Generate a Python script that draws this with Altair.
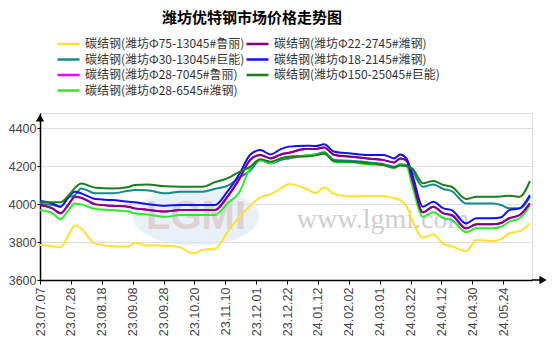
import json
import altair as alt
import pandas as pd

title_text = "潍坊优特钢市场价格走势图"

# legend order (column-major: Vega fills the legend column by column)
names = [
    "碳结钢(潍坊Φ75-13045#鲁丽)",
    "碳结钢(潍坊Φ30-13045#巨能)",
    "碳结钢(潍坊Φ28-7045#鲁丽)",
    "碳结钢(潍坊Φ28-6545#潍钢)",
    "碳结钢(潍坊Φ22-2745#潍钢)",
    "碳结钢(潍坊Φ18-2145#潍钢)",
    "碳结钢(潍坊Φ150-25045#巨能)",
]
colors = ["#FFE030", "#138A8A", "#FF00FF", "#2BEB2B", "#800080", "#1010F0", "#1E7D1E"]

# x positions: trading-day index (labels every 15 trading days)
date_labels = ["23.07.07", "23.07.28", "23.08.18", "23.09.08", "23.09.28", "23.10.20",
               "23.11.10", "23.12.01", "23.12.22", "24.01.12", "24.02.02", "24.03.01",
               "24.03.22", "24.04.12", "24.04.30", "24.05.24"]
label_idx = [i * 15 for i in range(len(date_labels))]

idx = [0, 6, 10, 14, 17, 20, 27, 35, 43, 46,
       52, 61, 68, 74, 79, 85, 91, 97, 102, 107,
       112, 117, 121, 129, 134, 138, 143, 151, 159, 167,
       172, 175, 178, 181, 186, 191, 196, 200, 207, 212,
       220, 224, 228, 233, 238]

yellow = [3784, 3778, 3772, 3840, 3888, 3870, 3790, 3778, 3776, 3795,
          3782, 3780, 3772, 3740, 3758, 3765, 3850, 3935, 3990, 4035,
          4052, 4082, 4105, 4080, 4058, 4088, 4052, 4040, 4042, 4042,
          4030, 4020, 3990, 3910, 3822, 3840, 3790, 3778, 3752, 3810,
          3805, 3815, 3846, 3856, 3898]
teal = [4000, 3995, 3986, 4035, 4047, 4082, 4056, 4056, 4070, 4074,
        4072, 4056, 4065, 4065, 4065, 4080, 4095, 4140, 4175, 4230,
        4214, 4232, 4240, 4255, 4262, 4272, 4231, 4228, 4220, 4210,
        4196, 4209, 4205, 4170, 4091, 4103, 4079, 4068, 4003, 4003,
        4003, 3995, 3977, 3977, 4038]
magenta = [3995, 3977, 3951, 4000, 4038, 4033, 3998, 3991, 3985, 3977,
           3970, 3960, 3968, 3968, 3968, 3968, 4038, 4135, 4231, 4258,
           4240, 4261, 4270, 4289, 4290, 4297, 4258, 4249, 4240, 4231,
           4219, 4240, 4230, 4120, 3956, 3986, 3951, 3942, 3872, 3893,
           3893, 3900, 3925, 3942, 4003]
lime = [3968, 3951, 3921, 3970, 4003, 3998, 3974, 3968, 3960, 3951,
        3945, 3933, 3942, 3942, 3942, 3942, 4003, 4065, 4188, 4231,
        4214, 4240, 4249, 4255, 4260, 4266, 4223, 4220, 4209, 4205,
        4188, 4205, 4200, 4090, 3933, 3956, 3925, 3916, 3851, 3872,
        3872, 3880, 3907, 3925, 3991]
purple = [3995, 3977, 3951, 4000, 4038, 4033, 3998, 3991, 3985, 3977,
          3970, 3960, 3968, 3968, 3968, 3968, 4038, 4135, 4231, 4258,
          4240, 4261, 4270, 4289, 4290, 4297, 4258, 4249, 4240, 4231,
          4219, 4240, 4230, 4120, 3956, 3986, 3951, 3942, 3872, 3893,
          3893, 3900, 3925, 3942, 4003]
blue = [4016, 4003, 3986, 4040, 4065, 4056, 4026, 4021, 4012, 4009,
        4000, 3991, 3995, 3995, 3995, 3995, 4065, 4161, 4258, 4284,
        4261, 4289, 4302, 4307, 4305, 4314, 4275, 4266, 4258, 4258,
        4240, 4261, 4240, 4150, 3986, 4012, 3977, 3968, 3898, 3925,
        3925, 3930, 3968, 3977, 4047]
dkgreen = [4009, 4009, 4009, 4047, 4085, 4108, 4085, 4082, 4090, 4100,
           4103, 4093, 4091, 4091, 4091, 4115, 4135, 4170, 4195, 4235,
           4223, 4240, 4249, 4250, 4256, 4266, 4225, 4222, 4215, 4205,
           4192, 4203, 4200, 4185, 4109, 4121, 4100, 4091, 4026, 4038,
           4038, 4040, 4044, 4038, 4121]

series_vals = [yellow, teal, magenta, lime, purple, blue, dkgreen]

rows = []
for k, vals in enumerate(series_vals):
    for i, v in zip(idx, vals):
        rows.append({"idx": i, "price": v, "series": names[k]})
df = pd.DataFrame(rows)

W, H = 492, 167
FONT_CN = "Noto Sans CJK SC"
FONT_NUM = "Liberation Sans"

label_expr = json.dumps(date_labels) + "[round(datum.value / 15)]"

lines = alt.Chart(df).mark_line(interpolate="monotone", strokeWidth=2).encode(
    x=alt.X("idx:Q",
            scale=alt.Scale(domain=[0, 239], nice=False, zero=False),
            axis=alt.Axis(values=label_idx, labelExpr=label_expr, labelAngle=270,
                          grid=False, title=None, domainColor="black", domainWidth=1.5,
                          tickColor="black", tickSize=4, labelFont=FONT_NUM,
                          labelFontSize=12.5, labelColor="#444", labelPadding=3)),
    y=alt.Y("price:Q",
            scale=alt.Scale(domain=[3600, 4479], nice=False, zero=False),
            axis=alt.Axis(values=[3600, 3800, 4000, 4200, 4400], format="d", grid=True,
                          gridColor="#dddddd", gridWidth=1, title=None,
                          domainColor="black", domainWidth=1.5, tickColor="black",
                          tickSize=3, labelFont=FONT_NUM, labelFontSize=12.5,
                          labelColor="#444", labelPadding=1)),
    color=alt.Color("series:N",
                    scale=alt.Scale(domain=names, range=colors),
                    sort=names,
                    legend=alt.Legend(orient="none", legendX=16, legendY=-75,
                                      columns=2, title=None, symbolType="stroke",
                                      symbolSize=484, symbolStrokeWidth=2.5,
                                      clipHeight=12, rowPadding=3.5,
                                      columnPadding=-2, labelOffset=4,
                                      labelFont=FONT_CN, labelFontSize=12,
                                      labelColor="#333", labelLimit=300)),
)

one = pd.DataFrame({"t": ["www.lgmi.com"]})
logo_df = pd.DataFrame({"t": ["LGMI"]})

ellipse = alt.Chart(logo_df).mark_point(
    shape="M-1,0A1,0.45,0,1,0,1,0A1,0.45,0,1,0,-1,0Z",
    filled=True, color="#d6e4f2", opacity=0.55, size=16000
).encode(x=alt.value(156), y=alt.value(104))

logo_text = alt.Chart(logo_df).mark_text(
    font="Liberation Sans", fontSize=40, fontWeight="bold", color="#d9c4c4",
    opacity=0.7, baseline="middle", align="center"
).encode(text="t:N", x=alt.value(156), y=alt.value(104))

watermark = alt.Chart(one).mark_text(
    font="Liberation Serif", fontSize=28, color="#cfcfcf", baseline="middle",
    align="center"
).encode(text="t:N", x=alt.value(343), y=alt.value(107))

x_ext = alt.Chart(one).mark_rule(color="black", strokeWidth=1.5).encode(
    x=alt.value(W), x2=alt.value(W + 8), y=alt.value(H))
x_arrow = alt.Chart(one).mark_point(shape="triangle-right", filled=True,
                                    color="black", opacity=1, size=70).encode(
    x=alt.value(W + 11), y=alt.value(H))
y_arrow = alt.Chart(one).mark_point(shape="triangle-up", filled=True,
                                    color="black", opacity=1, size=70).encode(
    x=alt.value(0), y=alt.value(5))

chart = alt.layer(ellipse, logo_text, watermark, lines, x_ext, x_arrow, y_arrow).properties(
    width=W, height=H,
    title=alt.TitleParams(text=title_text, font=FONT_CN, fontSize=15,
                          fontWeight="bold", color="black", anchor="middle",
                          frame="group", dx=-34, offset=12),
    autosize=alt.AutoSizeParams(type="none"),
    padding={"left": 40, "top": 113, "right": 22, "bottom": 77},
).configure_view(stroke=None).configure(background="white")

chart.save("out.html", embed_options={"renderer": "svg", "actions": False})
